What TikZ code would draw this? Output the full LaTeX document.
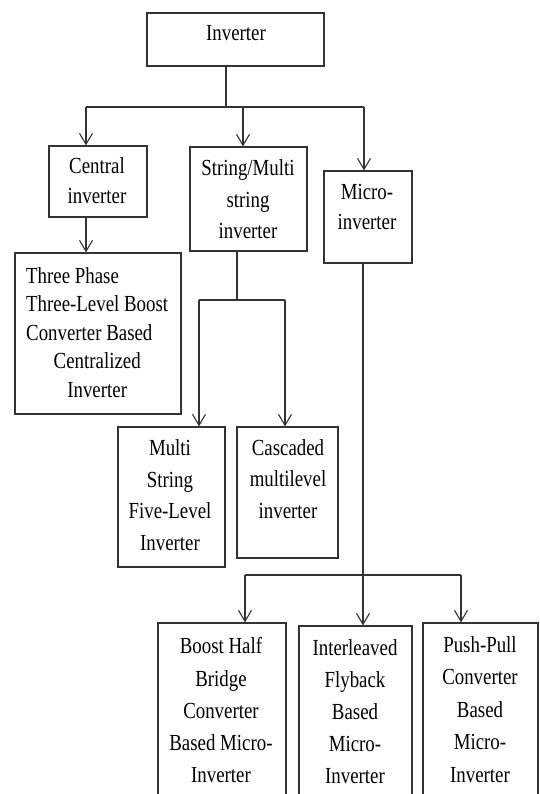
\documentclass[tikz,border=0pt]{standalone}
\usepackage{fontspec}
\setmainfont{Liberation Serif}[FakeStretch=0.82]
\usetikzlibrary{arrows.meta}
\definecolor{ln}{HTML}{333333}
\tikzset{
  box/.style={draw=ln, line width=1.2pt, inner sep=0pt},
  txt/.style={inner sep=0pt, anchor=north, align=center, font=\fontsize{23}{#1}\selectfont},
  con/.style={draw=ln, line width=1.1pt},
  arr/.style={con, -{Straight Barb[length=11pt,width=13pt,line width=1.1pt]}}
}
\begin{document}
\begin{tikzpicture}[x=1pt,y=-1pt]
\useasboundingbox (0,0) rectangle (539,794);
\clip (0,0) rectangle (539,794);
% boxes
\node[box, minimum width=177pt, minimum height=53pt]  (inv)     at (235.5,39.5) {};
\node[box, minimum width=98pt,  minimum height=71pt]  (central) at (98,181.5) {};
\node[box, minimum width=117pt, minimum height=104pt] (string)  at (248.5,199) {};
\node[box, minimum width=88pt,  minimum height=92pt]  (micro)   at (368,217) {};
\node[box, minimum width=166pt, minimum height=161pt] (three)   at (98,333.5) {};
\node[box, minimum width=107pt, minimum height=140pt] (multi)   at (171.5,497) {};
\node[box, minimum width=101pt, minimum height=131pt] (casc)    at (287.5,492.5) {};
\node[box, minimum width=128pt, minimum height=187pt] (boost)   at (222,716.5) {};
\node[box, minimum width=113pt, minimum height=184pt] (inter)   at (355.5,718) {};
\node[box, minimum width=115pt, minimum height=187pt] (push)    at (480.5,716.5) {};
% texts
\node[txt=33] (tinv) at (236,24.8) {Inverter};
\node[txt=30.5] (tcentral) at (97,157.3) {Central\\inverter};
\node[txt=31.3] (tstring) at (248,159.6) {String/Multi\\string\\inverter};
\node[txt=30] (tmicro) at (367,184.5) {Micro-\\inverter};
\node[txt=28.5, anchor=north west, align=left] (tthree) at (26,267.3)
  {Three Phase\\Three-Level Boost\\Converter Based\\\makebox[142pt]{Centralized}\\\makebox[142pt]{Inverter}};
\node[txt=31.7] (tmulti) at (170,439.3) {Multi\\String\\Five-Level\\Inverter};
\node[txt=31.5] (tcasc) at (288,439.3) {Cascaded\\multilevel\\inverter};
\node[txt=32.3] (tboost) at (221,637.3) {Boost Half\\Bridge\\Converter\\Based Micro-\\Inverter};
\node[txt=32] (tinter) at (355,639.3) {Interleaved\\Flyback\\Based\\Micro-\\Inverter};
\node[txt=32.5] (tpush) at (480,636.3) {Push-Pull\\Converter\\Based\\Micro-\\Inverter};
% junction coordinates
\coordinate (j1) at (226,107);
\coordinate (h1L) at (86,107);
\coordinate (h1M) at (243,107);
\coordinate (h1R) at (364,107);
\coordinate (j2) at (237,300);
\coordinate (h2L) at (199,300);
\coordinate (h2R) at (285,300);
\coordinate (j3) at (363,575);
\coordinate (h3L) at (245,575);
\coordinate (h3R) at (461,575);
% connectors
\draw[con] (inv.south -| j1) -- (j1);
\draw[con] (h1L) -- (h1R);
\draw[arr] (h1L) -- (h1L |- central.north);
\draw[arr] (h1M) -- (h1M |- string.north);
\draw[arr] (h1R) -- (h1R |- micro.north);
\draw[arr] (h1L |- central.south) -- (h1L |- three.north);
\draw[con] (string.south -| j2) -- (j2);
\draw[con] (h2L) -- (h2R);
\draw[arr] (h2L) -- (h2L |- multi.north);
\draw[arr] (h2R) -- (h2R |- casc.north);
\draw[arr] (micro.south -| j3) -- (j3 |- inter.north);
\draw[con] (h3L) -- (h3R);
\draw[arr] (h3L) -- (h3L |- boost.north);
\draw[arr] (h3R) -- (h3R |- push.north);
\end{tikzpicture}
\end{document}
